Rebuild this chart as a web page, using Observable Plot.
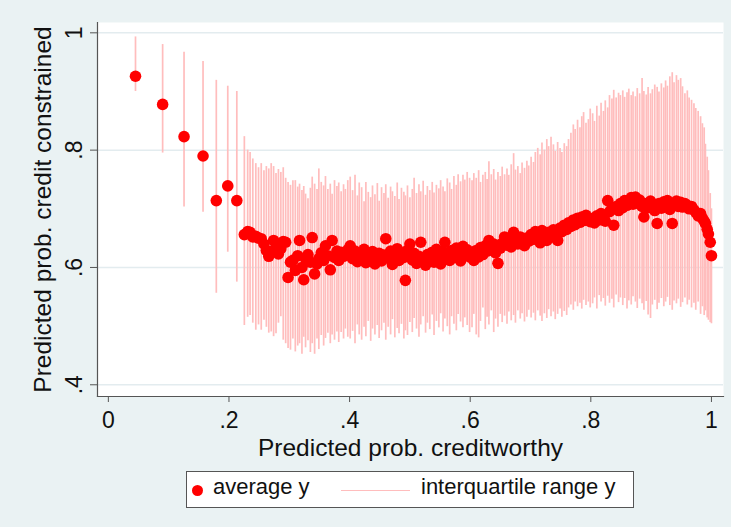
<!DOCTYPE html>
<html>
<head>
<meta charset="utf-8">
<script src="https://cdn.jsdelivr.net/npm/d3@7"></script>
<script src="https://cdn.jsdelivr.net/npm/@observablehq/plot@0.6"></script>
<style>
  html, body { margin: 0; padding: 0; background: #eaf2f3; }
  #wrap { position: relative; width: 731px; height: 527px; background: #eaf2f3; overflow: hidden;
          font-family: "Liberation Sans", Arial, sans-serif; color: #111; }
  #wrap svg { display: block; }
  #legend { position: absolute; left: 186px; top: 471px; width: 446px; height: 35px;
            background: #fff; border: 1px solid #555; }
  #legend .dot { position: absolute; left: 4.5px; top: 12.5px; width: 11px; height: 11px;
                 border-radius: 50%; background: #ff0000; }
  #legend .line { position: absolute; left: 154px; top: 17.5px; width: 69px; height: 1.3px; background: #ffbdbd; }
  #legend .lab { position: absolute; top: 4.4px; font-size: 22px; line-height: 22px; white-space: nowrap; color: #111; }
</style>
</head>
<body>
<div id="wrap"></div>
<script>
// ---- data ----
const xVals = [
  .045, .090, .1255, .157, .179, .198, .213,
  .2255,.231,.235,.2395,.2445,.249,.2535,.258,.262,.266,.270,.274,.278,.282,.286,.290,.294,.298,
  .302,.306,.310,.314,.317,.321,.324,.327,.331,.335,.338,.342,.346,.349,.353,.357,.360,.364,.368,.371,.375,.379,.382,.386,.390,.393,.397,
  .401,.405,.409,.413,.416,.420,.424,.427,.431,.435,.438,.442,.446,.449,.453,.457,.460,.464,.468,.471,.475,.479,.482,.486,.490,.4925,.496,.500,
  .504,.507,.511,.515,.518,.522,.526,.529,.533,.537,.540,.544,.548,.551,.555,.558,.562,.566,.569,.573,.577,.580,.584,.588,.591,.595,.599,
  .603,.606,.610,.614,.617,.621,.625,.628,.631,.635,.639,.642,.646,.650,.653,.657,.661,.664,.668,.672,.675,.679,.683,.686,.690,.694,.697,
  .701,.705,.708,.712,.716,.719,.723,.727,.730,.734,.738,.741,.745,.749,.752,.756,.760,.763,.767,.771,.774,.778,.782,.785,.788,.792,.796,.799,
  .803,.806,.810,.814,.817,.821,.824,.828,.831,.835,.838,.842,.846,.849,.853,.856,.860,.863,.867,.870,.874,.877,.881,.885,.888,.892,.895,.899,
  .902,.906,.910,.913,.917,.921,.924,.927,.931,.935,.938,.942,.945,.949,.952,.956,.960,.963,.967,.971,.974,.978,.982,.985,.988,.990,.993,.995,.998,1.000
];
const avgY = [
  .926, .878, .823, .790, .714, .739, .714,
  .656,.661,.660,.652,.653,.650,.649,.640,.629,.619,.627,.646,.635,.623,.632,.644,.643,.583,
  .609,.612,.595,.620,.646,.600,.579,.615,.622,.609,.651,.589,.606,.615,.625,.612,.637,.620,.596,.646,.617,.628,.612,.626,.619,.622,.630,
  .637,.615,.628,.610,.624,.617,.631,.608,.622,.613,.627,.606,.619,.624,.611,.621,.649,.616,.628,.605,.620,.632,.612,.625,.617,.578,.629,.640,
  .613,.624,.607,.619,.643,.611,.604,.622,.615,.626,.609,.631,.618,.606,.627,.643,.621,.612,.629,.617,.633,.624,.611,.636,.622,.630,.618,
  .626,.612,.629,.618,.634,.622,.637,.628,.646,.631,.640,.625,.607,.633,.641,.652,.638,.645,.635,.660,.648,.640,.652,.644,.637,.650,.645,
  .656,.648,.661,.653,.642,.663,.655,.646,.660,.652,.664,.657,.646,.667,.661,.672,.665,.676,.670,.681,.673,.684,.677,.686,.680,.689,.682,.678,
  .684,.676,.688,.681,.692,.685,.679,.714,.695,.701,.672,.704,.697,.709,.702,.714,.706,.711,.719,.708,.720,.712,.715,.704,.686,.709,.702,.713,
  .705,.697,.675,.709,.701,.712,.706,.714,.699,.675,.708,.713,.704,.711,.703,.709,.706,.700,.704,.698,.694,.688,.692,.684,.679,.675,.665,.657,.643,.620
];
const q1Y = [
  .900, .795, .703, .694, .556, .626, .575,
  .501,.515,.518,.505,.493,.502,.493,.510,.498,.488,.490,.482,.487,.505,.516,.476,.470,.462,
  .459,.478,.456,.466,.470,.452,.481,.463,.475,.455,.470,.452,.478,.460,.484,.466,.479,.488,.470,.485,.476,.490,.472,.489,.478,.495,.481,
  .478,.491,.470,.502,.485,.476,.498,.482,.508,.474,.495,.485,.501,.479,.492,.505,.476,.498,.485,.511,.480,.496,.487,.503,.478,.492,.484,.506,
  .489,.513,.495,.481,.502,.516,.488,.505,.494,.519,.484,.508,.497,.521,.490,.512,.499,.485,.516,.503,.492,.520,.507,.497,.514,.501,.489,
  .497,.520,.485,.480,.508,.531,.494,.515,.502,.526,.489,.512,.498,.520,.506,.517,.503,.524,.509,.518,.505,.526,.512,.521,.507,.515,.527,
  .514,.522,.509,.526,.517,.508,.521,.513,.528,.516,.524,.511,.520,.529,.515,.525,.518,.531,.536,.527,.541,.533,.539,.529,.544,.535,.541,.531,
  .538,.548,.529,.552,.541,.547,.534,.551,.539,.546,.531,.553,.540,.548,.535,.547,.529,.543,.536,.550,.541,.530,.546,.538,.527,.542,.519,.513,
  .536,.544,.528,.539,.547,.533,.541,.549,.535,.527,.543,.538,.546,.532,.540,.548,.536,.544,.531,.539,.527,.541,.520,.533,.518,.526,.514,.510,.506,.504
];
const q3Y = [
  .993, .980, .967, .951, .919, .909, .900,
  .823,.800,.796,.785,.777,.770,.777,.765,.772,.768,.777,.772,.760,.767,.762,.770,.752,.745,
  .740,.748,.748,.737,.742,.731,.738,.725,.717,.735,.754,.742,.733,.768,.745,.739,.755,.733,.742,.725,.748,.738,.744,.729,.741,.733,.748,
  .754,.731,.757,.722,.744,.736,.712,.745,.728,.719,.739,.724,.743,.713,.736,.726,.741,.718,.737,.729,.721,.744,.716,.735,.728,.722,.739,.719,
  .733,.752,.726,.741,.729,.747,.723,.738,.731,.745,.727,.740,.734,.748,.737,.729,.751,.744,.733,.755,.740,.758,.746,.757,.749,.762,.752,
  .748,.760,.752,.765,.745,.757,.762,.750,.780,.758,.767,.749,.762,.755,.771,.758,.768,.757,.775,.794,.766,.772,.760,.778,.769,.781,.773,
  .788,.779,.796,.803,.792,.812,.800,.818,.806,.822,.809,.798,.813,.803,.796,.811,.806,.818,.829,.843,.835,.851,.838,.857,.864,.846,.852,.870,
  .862,.849,.875,.858,.880,.866,.884,.872,.893,.887,.902,.889,.897,.893,.901,.890,.898,.904,.893,.899,.891,.905,.896,.922,.900,.894,.907,.896,
  .903,.911,.907,.899,.913,.906,.918,.909,.925,.932,.915,.927,.919,.922,.908,.896,.901,.889,.885,.879,.871,.866,.857,.845,.838,.810,.788,.765,.726,.700
];
const xTicks = [0, 0.2, 0.4, 0.6, 0.8, 1];
const xTickLabels = ["0", ".2", ".4", ".6", ".8", "1"];
const yTicks = [0.4, 0.6, 0.8, 1];
const yTickLabels = [".4", ".6", ".8", "1"];
const xTitle = "Predicted prob. creditworthy";
const yTitle = "Predicted prob. credit constrained";
const legendLabels = ["average y", "interquartile range y"];

// ---- table built from the arrays ----
const data = xVals.map((x, i) => ({x, avg: avgY[i], lo: q1Y[i], hi: q3Y[i]}));

const FONT = "Liberation Sans, Arial, Helvetica, sans-serif";
const chart = Plot.plot({
  width: 731,
  height: 470,
  marginLeft: 97,
  marginRight: 8,
  marginTop: 22,
  marginBottom: 74,
  style: {background: "transparent", fontFamily: FONT, color: "#111", overflow: "visible"},
  x: {domain: [-0.018, 1.02]},
  y: {domain: [0.38, 1.0176]},
  marks: [
    Plot.frame({fill: "white", stroke: null}),
    Plot.gridY(yTicks, {stroke: "#e3ecef", strokeOpacity: 1, strokeWidth: 1.5}),
    Plot.ruleX(data, {x: "x", y1: "lo", y2: "hi", stroke: "#ffbdbd", strokeWidth: 1.7}),
    Plot.dot(data, {x: "x", y: "avg", r: 5.8, fill: "#ff0000", stroke: null}),
    Plot.axisX({ticks: xTicks, tickFormat: d => xTickLabels[xTicks.indexOf(d)],
      tickSize: 6, tickPadding: 9, fontSize: 23, label: null, stroke: "#555", fill: "#111"}),
    Plot.axisY({ticks: yTicks, tickFormat: d => yTickLabels[yTicks.indexOf(d)],
      tickSize: 7, tickPadding: 9, tickRotate: -90, textAnchor: "middle", lineAnchor: "bottom",
      fontSize: 23, label: null, stroke: "#555", fill: "#111"}),
    Plot.frame({anchor: "left", stroke: "#555", strokeWidth: 1.2}),
    Plot.frame({anchor: "bottom", stroke: "#555", strokeWidth: 1.2}),
    Plot.text([xTitle], {text: d => d, frameAnchor: "bottom", dy: 59, lineAnchor: "bottom",
      textAnchor: "middle", fontSize: 24.5, fill: "#111"}),
    Plot.text([yTitle], {text: d => d, frameAnchor: "left", dx: -47, rotate: -90, lineAnchor: "bottom",
      textAnchor: "middle", fontSize: 24.5, fill: "#111"})
  ]
});

const wrap = document.getElementById("wrap");
wrap.appendChild(chart);

const legend = document.createElement("div");
legend.id = "legend";
legend.innerHTML =
  `<div class="dot"></div><span class="lab" style="left:26px">${legendLabels[0]}</span>` +
  `<div class="line"></div><span class="lab" style="left:234px">${legendLabels[1]}</span>`;
wrap.appendChild(legend);
</script>
</body>
</html>
